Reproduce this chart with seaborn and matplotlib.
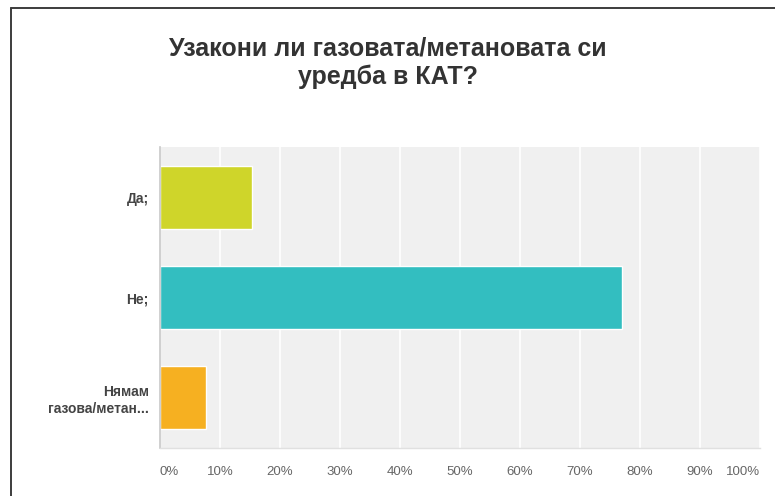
import matplotlib
matplotlib.use("Agg")
import matplotlib.pyplot as plt
from matplotlib.lines import Line2D
import seaborn as sns
import pandas as pd

title = "Узакони ли газовата/метановата си\nуредба в КАТ?"
answers = ["Да;", "Не;", "Нямам\nгазова/метан..."]
shares = [15.38, 76.92, 7.69]
colors = ["#CFD52A", "#33BEC0", "#F6B021"]
tick_values = [0, 10, 20, 30, 40, 50, 60, 70, 80, 90, 100]
tick_labels = ["0%", "10%", "20%", "30%", "40%", "50%", "60%", "70%", "80%", "90%", "100%"]

sns.set_theme(style="white")
plt.rcParams["font.family"] = ["Liberation Sans", "DejaVu Sans"]

df = pd.DataFrame({"answer": answers, "share": shares})

fig = plt.figure(figsize=(7.75, 4.96), dpi=100)
ax = fig.add_axes([160 / 775, 48 / 496, 600 / 775, 301 / 496])

sns.barplot(data=df, x="share", y="answer", hue="answer", palette=colors,
            orient="h", width=0.63, legend=False, ax=ax, saturation=1)

ax.set_facecolor("#F0F0F0")
ax.set_xlim(0, 100)
ax.set_xticks(tick_values)
ax.set_xticklabels(tick_labels)
ax.xaxis.grid(True, color="white", linewidth=1.2)
ax.set_axisbelow(True)
ax.set_xlabel("")
ax.set_ylabel("")

for s in ["top", "right"]:
    ax.spines[s].set_visible(False)
ax.spines["left"].set_color("#C8C8C8")
ax.spines["left"].set_linewidth(1.2)
ax.spines["bottom"].set_color("#E0E0E0")
ax.spines["bottom"].set_linewidth(1.0)

ax.tick_params(axis="x", length=0, pad=13, labelsize=9.5, labelcolor="#666666")
ax.tick_params(axis="y", length=0, pad=8, labelsize=10, labelcolor="#444444")
for lbl in ax.get_yticklabels():
    lbl.set_fontweight("bold")
xl = ax.get_xticklabels()
xl[0].set_horizontalalignment("left")
xl[-1].set_horizontalalignment("right")

fig.text(388 / 775, 1 - 63 / 496, title, ha="center", va="center",
         fontsize=18, fontweight="bold", color="#333333", linespacing=1.2)

# frame lines along the left and top edges
fig.add_artist(Line2D([11 / 775, 11 / 775], [0, 1 - 8 / 496],
                      transform=fig.transFigure, color="#3C3C3C", linewidth=1.4))
fig.add_artist(Line2D([11 / 775, 1], [1 - 8 / 496, 1 - 8 / 496],
                      transform=fig.transFigure, color="#3C3C3C", linewidth=1.4))

fig.savefig("out.png", dpi=100, facecolor="white")
